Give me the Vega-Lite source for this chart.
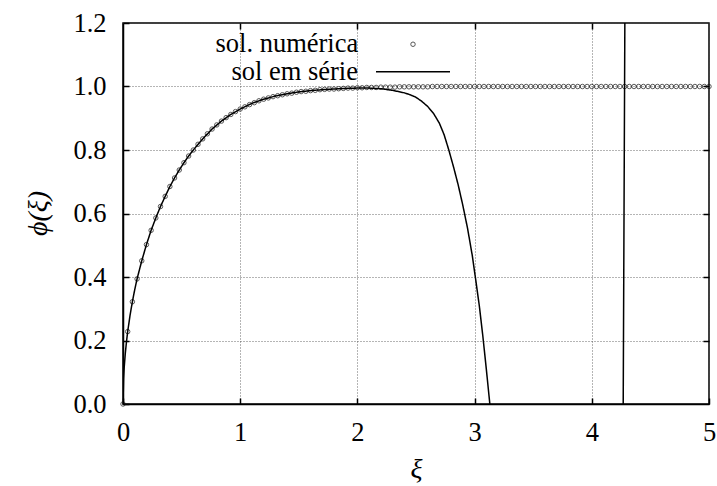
{
  "$schema": "https://vega.github.io/schema/vega-lite/v6.json",
  "width": 586,
  "height": 381,
  "autosize": {"type": "none"},
  "padding": {"left": 123, "top": 23, "right": 8, "bottom": 82},
  "background": "white",
  "config": {
    "font": "Liberation Serif",
    "view": {"stroke": "black", "strokeWidth": 1.5},
    "axis": {
      "labelFont": "Liberation Serif",
      "labelColor": "black",
      "labelFontSize": 26.5,
      "labelFlush": false,
      "labelOverlap": false,
      "tickColor": "black",
      "tickWidth": 1.5,
      "tickSize": -6,
      "domainColor": "black",
      "domainWidth": 1.5,
      "gridColor": "#444",
      "gridDash": [1, 2],
      "gridWidth": 0.8,
      "gridOpacity": 1,
      "titleFont": "Liberation Serif",
      "titleColor": "black",
      "titleFontSize": 28,
      "titleFontStyle": "italic",
      "titleFontWeight": "normal"
    },
    "legend": {
      "labelFont": "Liberation Serif",
      "labelColor": "black",
      "labelFontSize": 26.5,
      "labelLimit": 400
    }
  },
  "datasets": {
    "numerica": [
      {"xi": 0, "phi": 0}, {"xi": 0.04, "phi": 0.228}, {"xi": 0.08, "phi": 0.322}, {"xi": 0.12, "phi": 0.394},
      {"xi": 0.16, "phi": 0.451}, {"xi": 0.2, "phi": 0.502}, {"xi": 0.24, "phi": 0.547}, {"xi": 0.28, "phi": 0.586},
      {"xi": 0.32, "phi": 0.622}, {"xi": 0.36, "phi": 0.654}, {"xi": 0.4, "phi": 0.685}, {"xi": 0.44, "phi": 0.712},
      {"xi": 0.48, "phi": 0.737}, {"xi": 0.52, "phi": 0.76}, {"xi": 0.56, "phi": 0.781}, {"xi": 0.6, "phi": 0.8},
      {"xi": 0.64, "phi": 0.818}, {"xi": 0.68, "phi": 0.835}, {"xi": 0.72, "phi": 0.851}, {"xi": 0.76, "phi": 0.866},
      {"xi": 0.8, "phi": 0.879}, {"xi": 0.84, "phi": 0.891}, {"xi": 0.88, "phi": 0.902}, {"xi": 0.92, "phi": 0.912},
      {"xi": 0.96, "phi": 0.921}, {"xi": 1.0, "phi": 0.929}, {"xi": 1.04, "phi": 0.936}, {"xi": 1.08, "phi": 0.943},
      {"xi": 1.12, "phi": 0.949}, {"xi": 1.16, "phi": 0.955}, {"xi": 1.2, "phi": 0.96}, {"xi": 1.24, "phi": 0.964},
      {"xi": 1.28, "phi": 0.968}, {"xi": 1.32, "phi": 0.971}, {"xi": 1.36, "phi": 0.974}, {"xi": 1.4, "phi": 0.977},
      {"xi": 1.44, "phi": 0.979}, {"xi": 1.48, "phi": 0.982}, {"xi": 1.52, "phi": 0.984}, {"xi": 1.56, "phi": 0.985},
      {"xi": 1.6, "phi": 0.987}, {"xi": 1.64, "phi": 0.988}, {"xi": 1.68, "phi": 0.99}, {"xi": 1.72, "phi": 0.991},
      {"xi": 1.76, "phi": 0.992}, {"xi": 1.8, "phi": 0.992}, {"xi": 1.84, "phi": 0.993}, {"xi": 1.88, "phi": 0.994},
      {"xi": 1.92, "phi": 0.995}, {"xi": 1.96, "phi": 0.995}, {"xi": 2.0, "phi": 0.996}, {"xi": 2.04, "phi": 0.996},
      {"xi": 2.08, "phi": 0.997}, {"xi": 2.12, "phi": 0.997}, {"xi": 2.16, "phi": 0.997}, {"xi": 2.2, "phi": 0.998},
      {"xi": 2.24, "phi": 0.998}, {"xi": 2.28, "phi": 0.998}, {"xi": 2.32, "phi": 0.998}, {"xi": 2.36, "phi": 0.999},
      {"xi": 2.4, "phi": 0.999}, {"xi": 2.44, "phi": 0.999}, {"xi": 2.48, "phi": 0.999}, {"xi": 2.52, "phi": 0.999},
      {"xi": 2.56, "phi": 0.999}, {"xi": 2.6, "phi": 0.999}, {"xi": 2.64, "phi": 1.0}, {"xi": 2.68, "phi": 1.0},
      {"xi": 2.72, "phi": 1.0}, {"xi": 2.76, "phi": 1.0}, {"xi": 2.8, "phi": 1.0}, {"xi": 2.84, "phi": 1.0},
      {"xi": 2.88, "phi": 1.0}, {"xi": 2.92, "phi": 1.0}, {"xi": 2.96, "phi": 1.0}, {"xi": 3.0, "phi": 1.0},
      {"xi": 3.04, "phi": 1.0}, {"xi": 3.08, "phi": 1.0}, {"xi": 3.12, "phi": 1.0}, {"xi": 3.16, "phi": 1.0},
      {"xi": 3.2, "phi": 1.0}, {"xi": 3.24, "phi": 1.0}, {"xi": 3.28, "phi": 1.0}, {"xi": 3.32, "phi": 1.0},
      {"xi": 3.36, "phi": 1.0}, {"xi": 3.4, "phi": 1.0}, {"xi": 3.44, "phi": 1.0}, {"xi": 3.48, "phi": 1.0},
      {"xi": 3.52, "phi": 1.0}, {"xi": 3.56, "phi": 1.0}, {"xi": 3.6, "phi": 1.0}, {"xi": 3.64, "phi": 1.0},
      {"xi": 3.68, "phi": 1.0}, {"xi": 3.72, "phi": 1.0}, {"xi": 3.76, "phi": 1.0}, {"xi": 3.8, "phi": 1.0},
      {"xi": 3.84, "phi": 1.0}, {"xi": 3.88, "phi": 1.0}, {"xi": 3.92, "phi": 1.0}, {"xi": 3.96, "phi": 1.0},
      {"xi": 4.0, "phi": 1.0}, {"xi": 4.04, "phi": 1.0}, {"xi": 4.08, "phi": 1.0}, {"xi": 4.12, "phi": 1.0},
      {"xi": 4.16, "phi": 1.0}, {"xi": 4.2, "phi": 1.0}, {"xi": 4.24, "phi": 1.0}, {"xi": 4.28, "phi": 1.0},
      {"xi": 4.32, "phi": 1.0}, {"xi": 4.36, "phi": 1.0}, {"xi": 4.4, "phi": 1.0}, {"xi": 4.44, "phi": 1.0},
      {"xi": 4.48, "phi": 1.0}, {"xi": 4.52, "phi": 1.0}, {"xi": 4.56, "phi": 1.0}, {"xi": 4.6, "phi": 1.0},
      {"xi": 4.64, "phi": 1.0}, {"xi": 4.68, "phi": 1.0}, {"xi": 4.72, "phi": 1.0}, {"xi": 4.76, "phi": 1.0},
      {"xi": 4.8, "phi": 1.0}, {"xi": 4.84, "phi": 1.0}, {"xi": 4.88, "phi": 1.0}, {"xi": 4.92, "phi": 1.0},
      {"xi": 4.96, "phi": 1.0}, {"xi": 5.0, "phi": 1.0}
    ],
    "serie": [
      {"xi": 0, "phi": 0}, {"xi": 0.005, "phi": 0.08}, {"xi": 0.01, "phi": 0.114}, {"xi": 0.02, "phi": 0.161},
      {"xi": 0.03, "phi": 0.197}, {"xi": 0.04, "phi": 0.228}, {"xi": 0.06, "phi": 0.279}, {"xi": 0.08, "phi": 0.322},
      {"xi": 0.1, "phi": 0.36}, {"xi": 0.12, "phi": 0.394}, {"xi": 0.16, "phi": 0.451}, {"xi": 0.2, "phi": 0.502},
      {"xi": 0.24, "phi": 0.547}, {"xi": 0.28, "phi": 0.586}, {"xi": 0.32, "phi": 0.622}, {"xi": 0.36, "phi": 0.654},
      {"xi": 0.4, "phi": 0.685}, {"xi": 0.44, "phi": 0.712}, {"xi": 0.48, "phi": 0.737}, {"xi": 0.52, "phi": 0.76},
      {"xi": 0.56, "phi": 0.781}, {"xi": 0.6, "phi": 0.8}, {"xi": 0.68, "phi": 0.835}, {"xi": 0.76, "phi": 0.866},
      {"xi": 0.84, "phi": 0.891}, {"xi": 0.92, "phi": 0.912}, {"xi": 1.0, "phi": 0.929}, {"xi": 1.1, "phi": 0.947},
      {"xi": 1.2, "phi": 0.96}, {"xi": 1.3, "phi": 0.97}, {"xi": 1.4, "phi": 0.977}, {"xi": 1.5, "phi": 0.983},
      {"xi": 1.6, "phi": 0.987}, {"xi": 1.7, "phi": 0.99}, {"xi": 1.8, "phi": 0.992}, {"xi": 1.9, "phi": 0.994},
      {"xi": 2.0, "phi": 0.995}, {"xi": 2.1, "phi": 0.995}, {"xi": 2.2, "phi": 0.993}, {"xi": 2.3, "phi": 0.988},
      {"xi": 2.4, "phi": 0.98}, {"xi": 2.45, "phi": 0.974}, {"xi": 2.5, "phi": 0.966}, {"xi": 2.55, "phi": 0.953},
      {"xi": 2.6, "phi": 0.937}, {"xi": 2.65, "phi": 0.915}, {"xi": 2.7, "phi": 0.884}, {"xi": 2.74, "phi": 0.848},
      {"xi": 2.78, "phi": 0.8}, {"xi": 2.82, "phi": 0.747}, {"xi": 2.86, "phi": 0.69}, {"xi": 2.9, "phi": 0.625},
      {"xi": 2.94, "phi": 0.553}, {"xi": 2.98, "phi": 0.468}, {"xi": 3.01, "phi": 0.39}, {"xi": 3.04, "phi": 0.31},
      {"xi": 3.07, "phi": 0.215}, {"xi": 3.1, "phi": 0.11}, {"xi": 3.13, "phi": 0.0}, {"xi": 3.2, "phi": -0.35},
      {"xi": 3.4, "phi": -1.8}, {"xi": 3.7, "phi": -4.5}, {"xi": 4.0, "phi": -5.5}, {"xi": 4.2, "phi": -3.0},
      {"xi": 4.262, "phi": -0.5}, {"xi": 4.268, "phi": 0.0}, {"xi": 4.282, "phi": 1.2}, {"xi": 4.29, "phi": 1.7}
    ]
  },
  "layer": [
    {
      "data": {"name": "numerica"},
      "mark": {"type": "point", "filled": false, "stroke": "#111", "size": 20, "strokeWidth": 1},
      "encoding": {
        "x": {
          "field": "xi", "type": "quantitative",
          "scale": {"domain": [0, 5], "nice": false, "zero": false},
          "axis": {
            "orient": "bottom", "values": [0, 1, 2, 3, 4, 5], "format": "d",
            "grid": true, "labelPadding": 21,
            "title": "ξ", "titleY": 73, "titleBaseline": "alphabetic"
          }
        },
        "y": {
          "field": "phi", "type": "quantitative",
          "scale": {"domain": [0, 1.2], "nice": false, "zero": false},
          "axis": {
            "orient": "left", "values": [0, 0.2, 0.4, 0.6, 0.8, 1.0, 1.2], "format": ".1f",
            "grid": true, "labelPadding": 23,
            "title": "ϕ(ξ)", "titleX": -77, "titleY": 190, "titleAngle": -90,
            "titleAlign": "center", "titleBaseline": "alphabetic"
          }
        },
        "shape": {
          "datum": "sol. numérica", "type": "nominal",
          "scale": {"range": ["circle"]},
          "legend": {
            "orient": "none", "legendX": 276.75, "legendY": 8, "title": null,
            "symbolType": "circle", "symbolSize": 20,
            "symbolStrokeColor": "#111", "symbolStrokeWidth": 1, "symbolFillColor": "transparent",
            "labelAlign": "right", "labelOffset": -68, "labelBaseline": "middle"
          }
        }
      }
    },
    {
      "data": {"name": "serie"},
      "mark": {"type": "line", "stroke": "black", "strokeWidth": 1.5, "clip": true},
      "encoding": {
        "x": {
          "field": "xi", "type": "quantitative",
          "axis": {"orient": "top", "values": [1, 2, 3, 4], "labels": false, "domain": false, "grid": false, "title": null}
        },
        "y": {
          "field": "phi", "type": "quantitative",
          "axis": {"orient": "right", "values": [0.2, 0.4, 0.6, 0.8, 1.0], "labels": false, "domain": false, "grid": false, "title": null}
        },
        "strokeDash": {
          "datum": "sol em série", "type": "nominal",
          "scale": {"range": [[1, 0]]},
          "legend": {
            "orient": "none", "legendX": 252, "legendY": 10.7, "title": null,
            "symbolType": "stroke", "symbolSize": 5476,
            "symbolStrokeColor": "black", "symbolStrokeWidth": 1.5,
            "labelAlign": "right", "labelOffset": -93, "labelBaseline": "middle"
          }
        }
      }
    }
  ],
  "resolve": {"axis": {"x": "independent", "y": "independent"}}
}
